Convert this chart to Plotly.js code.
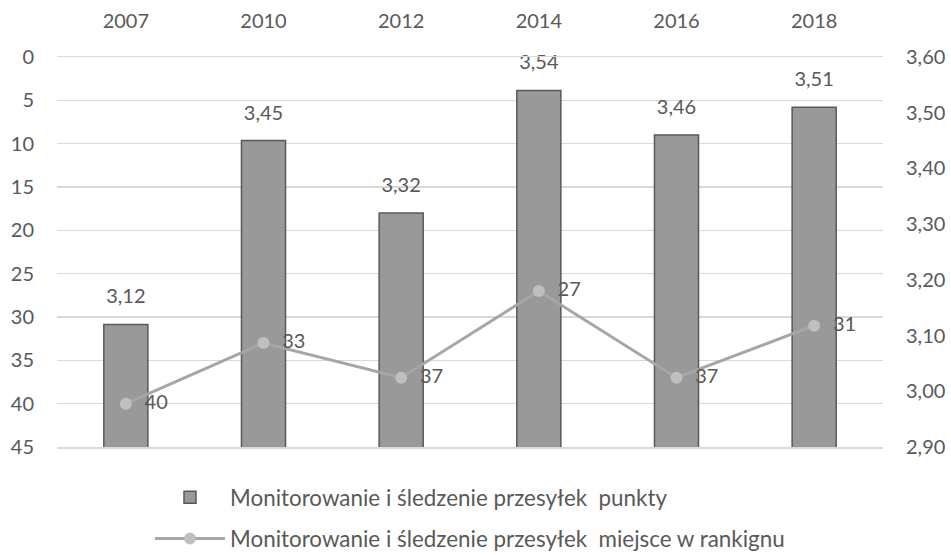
<!DOCTYPE html>
<html>
<head>
<meta charset="utf-8">
<script src="https://cdn.plot.ly/plotly-3.0.1.min.js"></script>
<style>html,body{margin:0;padding:0;background:#fff;}#chart{width:951px;height:555px;}</style>
</head>
<body>
<div id="chart"></div>
<script>
const years = ['2007', '2010', '2012', '2014', '2016', '2018'];
const points = [3.12, 3.45, 3.32, 3.54, 3.46, 3.51];
const ranks = [40, 33, 37, 27, 37, 31];
const barName = 'Monitorowanie i śledzenie przesyłek\u00a0 punkty';
const lineName = 'Monitorowanie i śledzenie przesyłek\u00a0 miejsce w rankignu';

const txt = '#595959';
const fam = 'Lato, "Open Sans", sans-serif';
const fnt = {family: fam, size: 20, color: txt};

const bars = {
  type: 'bar', x: years, y: points, name: barName,
  xaxis: 'x', yaxis: 'y', legendgroup: 'a',
  width: 0.32,
  marker: {color: '#999999', line: {color: '#595959', width: 1.5}},
  hoverinfo: 'none'
};
const barLabels = {
  type: 'scatter', mode: 'markers+text', x: years, y: points,
  xaxis: 'x', yaxis: 'y', showlegend: false,
  marker: {size: 24, opacity: 0},
  text: points.map(v => v.toFixed(2).replace('.', ',')),
  textposition: 'top center', cliponaxis: false,
  textfont: fnt, hoverinfo: 'none'
};
const line = {
  type: 'scatter', mode: 'lines+markers+text', x: years, y: ranks, name: lineName,
  xaxis: 'x', yaxis: 'y2', legendgroup: 'b',
  line: {color: '#a6a6a6', width: 3},
  marker: {symbol: 'circle', size: 12, color: '#bfbfbf'},
  text: ranks.map(v => '\u00a0\u00a0' + v),
  textposition: 'middle right', cliponaxis: false,
  textfont: fnt, hoverinfo: 'none'
};

const layout = {
  width: 951, height: 555,
  margin: {l: 57, r: 68, t: 57, b: 108, autoexpand: false},
  paper_bgcolor: '#fff', plot_bgcolor: '#fff',
  font: fnt,
  separators: ',.',
  showlegend: true,
  legend: {x: 0.1126, xanchor: 'left', y: -0.075, yanchor: 'top', orientation: 'v',
    traceorder: 'grouped', tracegroupgap: 9, itemwidth: 70,
    font: {family: fam, size: 22.4, color: txt}, bgcolor: 'rgba(0,0,0,0)'},
  xaxis: {type: 'category', side: 'top', showgrid: false, zeroline: false,
    showline: true, mirror: true, linecolor: '#d9d9d9', linewidth: 1.5,
    ticks: '', ticklabelstandoff: 20, tickfont: fnt, fixedrange: true},
  yaxis: {side: 'right', range: [2.9, 3.6], dtick: 0.1, tickformat: '.2f',
    showgrid: false, zeroline: false, showline: false, ticks: '',
    ticklabelstandoff: 22, tickfont: fnt, fixedrange: true},
  yaxis2: {side: 'left', overlaying: 'y', range: [45, 0], dtick: 5,
    showgrid: true, gridcolor: '#d9d9d9', gridwidth: 1.5, zeroline: false, showline: false,
    ticks: '', ticklabelstandoff: 22, tickfont: fnt, fixedrange: true}
};

Plotly.newPlot('chart', [bars, barLabels, line], layout, {displayModeBar: false, staticPlot: true});
</script>
</body>
</html>
